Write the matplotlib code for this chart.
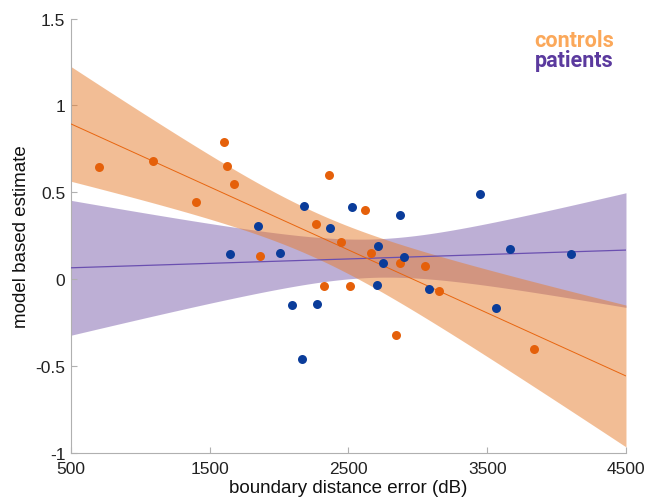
import numpy as np
import matplotlib
matplotlib.use("Agg")
import matplotlib.pyplot as plt

# ---- data ----
controls_x = [702, 1091, 1401, 1603, 1624, 1675, 1862, 2359, 2266, 2446, 2320, 2514,
              2619, 2663, 2842, 2870, 3051, 3152, 3837]
controls_y = [0.645, 0.68, 0.445, 0.79, 0.652, 0.547, 0.132, 0.60, 0.317, 0.213,
              -0.04, -0.04, 0.40, 0.15, -0.32, 0.092, 0.075, -0.07, -0.40]
patients_x = [1646, 1848, 2006, 2093, 2180, 2166, 2275, 2369, 2525, 2870, 2712,
              2705, 2748, 2902, 3080, 3448, 3563, 3664, 4104]
patients_y = [0.145, 0.305, 0.150, -0.150, 0.42, -0.46, -0.14, 0.294, 0.415, 0.37,
              0.19, -0.035, 0.092, 0.126, -0.058, 0.49, -0.167, 0.173, 0.144]

# confidence band half-widths at x = 500
controls_band_hw_500 = 0.33
patients_band_hw_500 = 0.388

x_ticks = [500, 1500, 2500, 3500, 4500]
y_ticks = [-1, -0.5, 0, 0.5, 1, 1.5]
y_ticklabels = ["-1", "-0.5", "0", "0.5", "1", "1.5"]


def fit_band(x, y, xs, hw_at_500):
    x = np.asarray(x, float); y = np.asarray(y, float)
    n = len(x)
    b, a = np.polyfit(x, y, 1)
    sxx = np.sum((x - x.mean()) ** 2)
    fit = a + b * xs
    shape = np.sqrt(1.0 / n + (xs - x.mean()) ** 2 / sxx)
    shape500 = np.sqrt(1.0 / n + (500 - x.mean()) ** 2 / sxx)
    hw = hw_at_500 * shape / shape500
    return fit, fit - hw, fit + hw


xs = np.linspace(500, 4500, 300)
cf, cl, cu = fit_band(controls_x, controls_y, xs, controls_band_hw_500)
pf, pl, pu = fit_band(patients_x, patients_y, xs, patients_band_hw_500)

fig = plt.figure(figsize=(6.55, 5.02), dpi=100)
ax = fig.add_axes([0.1084, 0.0956, 0.8473, 0.8655])

ax.fill_between(xs, pl, pu, color=(125/255, 97/255, 173/255), alpha=0.5, lw=0, zorder=1)
ax.fill_between(xs, cl, cu, color=(231/255, 125/255, 45/255), alpha=0.5, lw=0, zorder=2)
ax.plot(xs, pf, color="#6A4FB0", lw=0.9, zorder=3)
ax.plot(xs, cf, color="#E8650F", lw=0.7, zorder=3)

ax.scatter(controls_x, controls_y, s=42, color="#E5600A", lw=0, zorder=4)
ax.scatter(patients_x, patients_y, s=42, color="#0A3C9A", lw=0, zorder=4)

ax.set_xlim(500, 4500)
ax.set_ylim(-1, 1.5)
ax.set_xticks(x_ticks)
ax.set_xticklabels([str(v) for v in x_ticks])
ax.set_yticks(y_ticks)
ax.set_yticklabels(y_ticklabels)
for s in ["top", "right"]:
    ax.spines[s].set_visible(False)
for s in ["left", "bottom"]:
    ax.spines[s].set_color("#B0B0B0")
    ax.spines[s].set_linewidth(0.8)
ax.tick_params(direction="in", length=4, color="#B0B0B0", labelsize=12.5,
               labelcolor="#222222")
ax.tick_params(axis="x", pad=6)
ax.tick_params(axis="y", pad=4)
for lab in ax.get_xticklabels() + ax.get_yticklabels():
    lab.set_family("Liberation Sans")

ax.set_xlabel("boundary distance error (dB)", fontsize=13.5, family="Liberation Sans",
              labelpad=2, color="#111111")
ax.set_ylabel("model based estimate", fontsize=13.5, family="Liberation Sans",
              labelpad=4, color="#111111")

ax.text(0.978, 0.95, "controls", transform=ax.transAxes, ha="right", va="center",
        fontsize=15.5, fontweight="bold", family="Roboto", color="#FBA85A")
ax.text(0.978, 0.904, "patients", transform=ax.transAxes, ha="right", va="center",
        fontsize=15.5, fontweight="bold", family="Roboto", color="#5B3A9E")

fig.savefig("out.png", dpi=100)
